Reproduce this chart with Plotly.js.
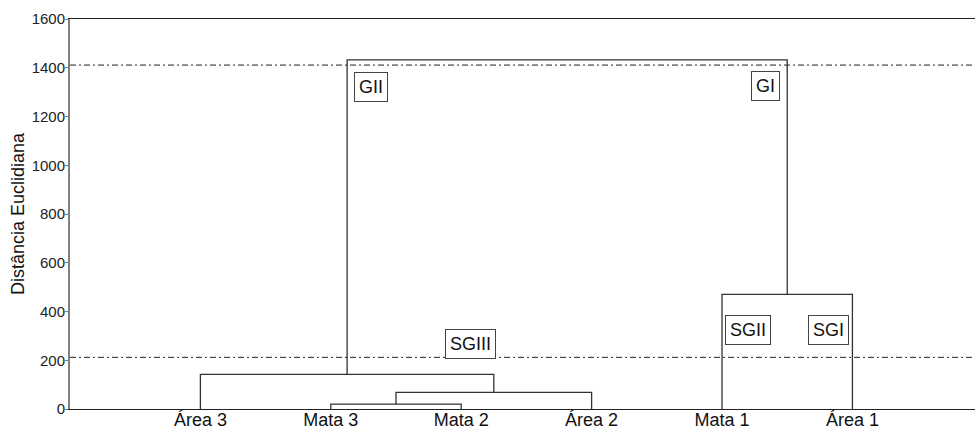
<!DOCTYPE html>
<html>
<head>
<meta charset="utf-8">
<script src="https://cdn.plot.ly/plotly-3.0.1.min.js"></script>
<style>html,body{margin:0;padding:0;background:#fff;}#chart{width:975px;height:431px;}</style>
</head>
<body>
<div id="chart"></div>
<script>
// Leaves in dendrogram order
const leaves = ['Área 3', 'Mata 3', 'Mata 2', 'Área 2', 'Mata 1', 'Área 1'];
// Merges: [left member, right member, height]; members are leaf names or merge ids (m0, m1, ...)
const mergeLeft   = ['Mata 3', 'm0',     'Área 3', 'Mata 1', 'm2'];
const mergeRight  = ['Mata 2', 'Área 2', 'm1',     'Área 1', 'm3'];
const mergeHeight = [20, 68, 142, 470, 1432];
// Cut lines
const cutHeights = [1411, 212];
// Group labels
const groupLabels = ['GII', 'GI', 'SGIII', 'SGII', 'SGI'];
const groupX = [2.31, 5.33, 3.07, 5.20, 5.82];
const groupY = [1321, 1325, 267, 324, 324];
const yTicks = [0, 200, 400, 600, 800, 1000, 1200, 1400, 1600];

const pos = {}, hgt = {};
leaves.forEach((l, i) => { pos[l] = i + 1; hgt[l] = 0; });
const traces = [];
const lx = [], ly = [];
mergeHeight.forEach((h, i) => {
  const a = mergeLeft[i], b = mergeRight[i];
  lx.push(pos[a], pos[a], pos[b], pos[b], null);
  ly.push(hgt[a], h, h, hgt[b], null);
  pos['m' + i] = (pos[a] + pos[b]) / 2;
  hgt['m' + i] = h;
});
traces.push({x: lx, y: ly, mode: 'lines', line: {color: '#333', width: 1.3}, hoverinfo: 'skip', showlegend: false});
const XMAX = 6.94;
cutHeights.forEach(c => {
  traces.push({x: [0, XMAX], y: [c, c], mode: 'lines', line: {color: '#222', width: 1, dash: '6px,3px,2px,3px'}, hoverinfo: 'skip', showlegend: false});
});

const annotations = groupLabels.map((t, i) => ({
  x: groupX[i], y: groupY[i], xref: 'x', yref: 'y', text: t, showarrow: false,
  font: {family: 'Liberation Sans, Arial, sans-serif', size: 18, color: '#111'},
  bordercolor: '#444', borderwidth: 1, borderpad: 4, bgcolor: '#fff'
}));

const layout = {
  width: 975, height: 431,
  margin: {l: 70, r: 0, t: 19, b: 22},
  paper_bgcolor: '#fff', plot_bgcolor: '#fff',
  showlegend: false,
  font: {family: 'Liberation Sans, Arial, sans-serif', color: '#222'},
  xaxis: {
    range: [0, XMAX], tickvals: leaves.map((l, i) => i + 1), ticktext: leaves,
    showgrid: false, zeroline: false, showline: true, mirror: true, linecolor: '#222', linewidth: 1,
    ticks: '', tickfont: {size: 18, color: '#111'}, automargin: false, ticklabelstandoff: -6
  },
  yaxis: {
    range: [0, 1600], tickvals: yTicks, showgrid: false, zeroline: false,
    showline: true, linecolor: '#808080', linewidth: 2, ticks: 'outside', ticklen: 3, tickcolor: '#808080',
    tickfont: {size: 15, color: '#222'}, automargin: false, ticklabelstandoff: -3,
    title: {text: 'Distância Euclidiana', font: {size: 18, color: '#111'}, standoff: 2}
  },
  annotations: annotations
};
Plotly.newPlot('chart', traces, layout, {displayModeBar: false, staticPlot: true});
</script>
</body>
</html>
